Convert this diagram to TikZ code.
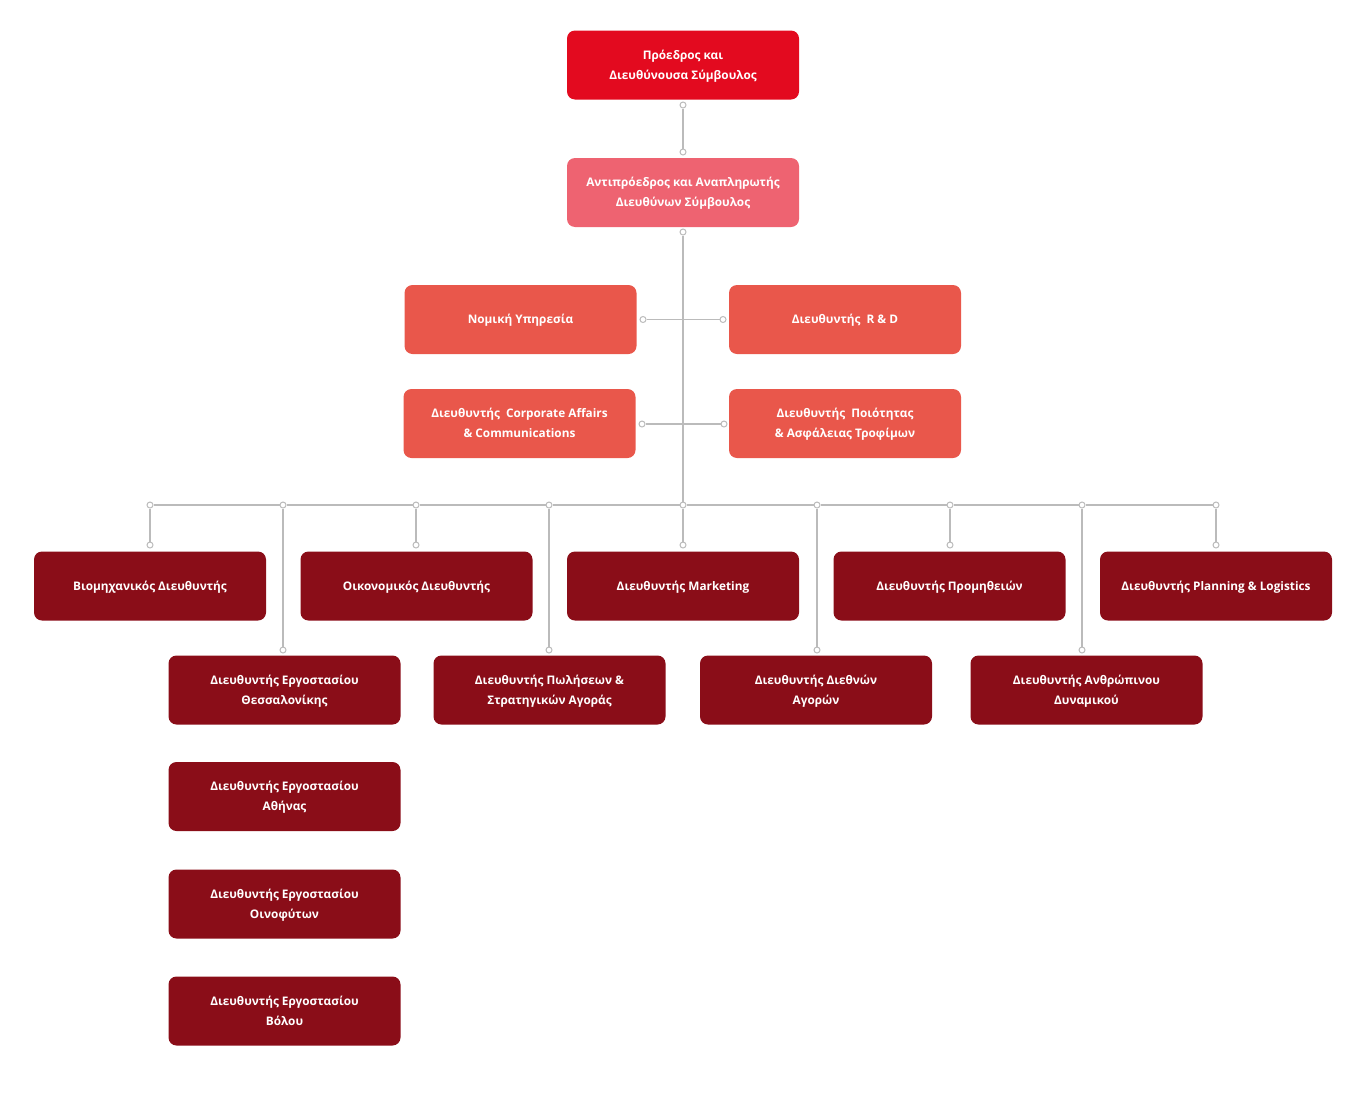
\documentclass[tikz,border=0pt]{standalone}
\usepackage{fontspec}
\setmainfont{Open Sans}
\definecolor{ceoc}{HTML}{E30A1F}
\definecolor{vicec}{HTML}{EE6371}
\definecolor{midc}{HTML}{E9574B}
\definecolor{darkc}{HTML}{8A0D18}
\definecolor{linec}{HTML}{BBBBBB}
\newcommand{\bxline}[1]{\strut #1}
\begin{document}
\begin{tikzpicture}[x=1pt,y=-1pt,
  box/.style={rectangle, rounded corners=8pt, minimum width=232pt, minimum height=69pt,
    inner sep=0pt, align=center, text=white, font=\bfseries\fontsize{11.8}{20}\selectfont},
  ceobox/.style={box, fill=ceoc},
  vicebox/.style={box, fill=vicec},
  midbox/.style={box, fill=midc},
  darkbox/.style={box, fill=darkc},
  dot/.style={circle, draw=linec, fill=white, line width=1pt, minimum size=6pt, inner sep=0pt},
  conn/.style={draw=linec, line width=1.5pt}]
\useasboundingbox (0,0) rectangle (1366,1103);

% boxes
\node[ceobox] (ceo) at (683,65) {\bxline{Πρόεδρος και}\\\bxline{Διευθύνουσα Σύμβουλος}};
\node[vicebox] (vice) at (683,192.5) {\bxline{Αντιπρόεδρος και Αναπληρωτής}\\\bxline{Διευθύνων Σύμβουλος}};
\node[midbox] (legal) at (520.5,319.5) {\bxline{Νομική Υπηρεσία}};
\node[midbox] (rd) at (845,319.5) {\bxline{Διευθυντής\hspace{3pt} R \& D}};
\node[midbox] (corp) at (519.5,423.5) {\bxline{Διευθυντής\hspace{3pt} Corporate Affairs}\\\bxline{\& Communications}};
\node[midbox] (qual) at (845,423.5) {\bxline{Διευθυντής\hspace{3pt} Ποιότητας}\\\bxline{\& Ασφάλειας Τροφίμων}};

\node[darkbox] (ind) at (150,586) {\bxline{Βιομηχανικός Διευθυντής}};
\node[darkbox] (fin) at (416.5,586) {\bxline{Οικονομικός Διευθυντής}};
\node[darkbox] (mkt) at (683,586) {\bxline{Διευθυντής Marketing}};
\node[darkbox] (proc) at (949.5,586) {\bxline{Διευθυντής Προμηθειών}};
\node[darkbox] (plan) at (1216,586) {\bxline{Διευθυντής Planning \& Logistics}};

\node[darkbox] (thes) at (284.5,690) {\bxline{Διευθυντής Εργοστασίου}\\\bxline{Θεσσαλονίκης}};
\node[darkbox] (sales) at (549.5,690) {\bxline{Διευθυντής Πωλήσεων \&}\\\bxline{Στρατηγικών Αγοράς}};
\node[darkbox] (intl) at (816,690) {\bxline{Διευθυντής Διεθνών}\\\bxline{Αγορών}};
\node[darkbox] (hr) at (1086.5,690) {\bxline{Διευθυντής Ανθρώπινου}\\\bxline{Δυναμικού}};

\node[darkbox] (ath) at (284.5,796.5) {\bxline{Διευθυντής Εργοστασίου}\\\bxline{Αθήνας}};
\node[darkbox] (oin) at (284.5,904) {\bxline{Διευθυντής Εργοστασίου}\\\bxline{Οινοφύτων}};
\node[darkbox] (vol) at (284.5,1011) {\bxline{Διευθυντής Εργοστασίου}\\\bxline{Βόλου}};

% connector dots
\node[dot] (d1) at (683,105) {};
\node[dot] (d2) at (683,152) {};
\node[dot] (d3) at (683,232) {};
\node[dot] (dl) at (643,319.5) {};
\node[dot] (dr) at (723,319.5) {};
\node[dot] (dcl) at (642,424) {};
\node[dot] (dcr) at (724,424) {};

\foreach \n/\x in {b1/150,b2/283,b3/416,b4/549,b5/683,b6/817,b7/950,b8/1082,b9/1216}
  \node[dot] (\n) at (\x,505) {};
\foreach \n/\x in {t1/150,t3/416,t5/683,t7/950,t9/1216}
  \node[dot] (\n) at (\x,545) {};
\foreach \n/\x in {u2/283,u4/549,u6/817,u8/1082}
  \node[dot] (\n) at (\x,650) {};

% connectors
\draw[conn] (d1) -- (d2);
\draw[conn] (d3) -- (b5);
\draw[conn] (dl) -- (dr);
\draw[conn] (dcl) -- (dcr);
\draw[conn] (b1) -- (b2);
\draw[conn] (b2) -- (b3);
\draw[conn] (b3) -- (b4);
\draw[conn] (b4) -- (b5);
\draw[conn] (b5) -- (b6);
\draw[conn] (b6) -- (b7);
\draw[conn] (b7) -- (b8);
\draw[conn] (b8) -- (b9);
\foreach \i in {1,3,5,7,9} \draw[conn] (b\i) -- (t\i);
\foreach \i in {2,4,6,8} \draw[conn] (b\i) -- (u\i);
\end{tikzpicture}
\end{document}
